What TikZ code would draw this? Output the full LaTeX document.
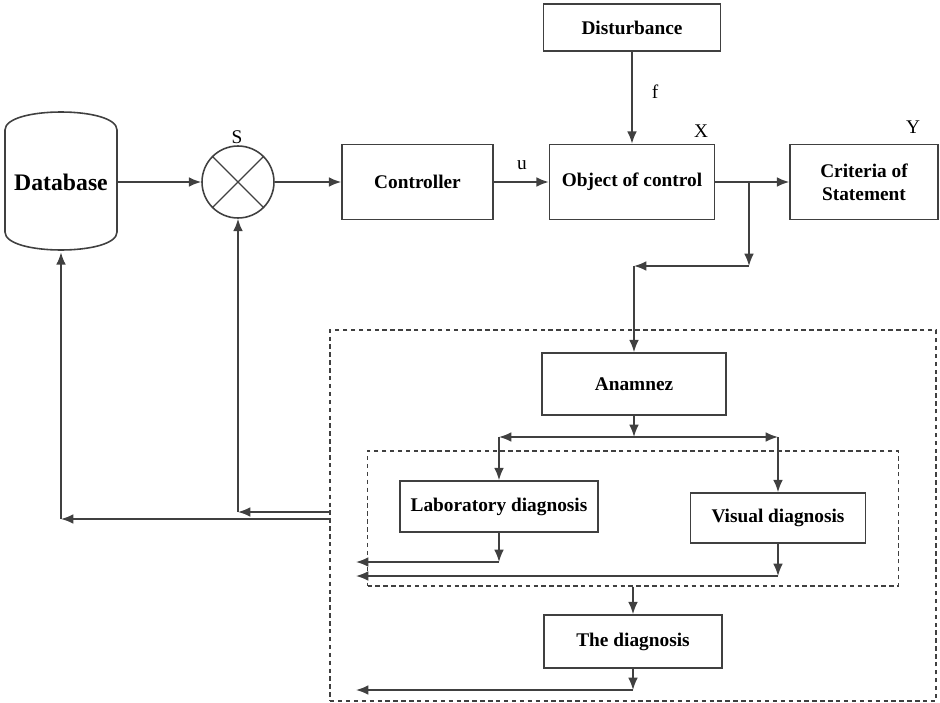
\documentclass[tikz,border=0pt]{standalone}
\usepackage{fontspec}
\setmainfont{Liberation Serif}
\usetikzlibrary{arrows.meta}
\definecolor{linegray}{rgb}{0.25,0.25,0.25}

\begin{document}
\begin{tikzpicture}[x=0.02cm,y=-0.02cm,>={Latex[length=7pt,width=5.5pt]},
  every node/.style={font=\fontsize{11}{13}\selectfont},
  blk/.style={draw=linegray,line width=0.9pt,inner sep=0pt,font=\fontsize{11}{13}\selectfont\bfseries},
  frame/.style={draw=linegray,line width=0.7pt,dash pattern=on 2.5pt off 2pt,inner sep=0pt},
  link/.style={->,draw=linegray,line width=0.9pt}]
 \useasboundingbox (0,0) rectangle (940,703);
 % control loop
 \node[inner sep=0pt,minimum width=2.24cm,minimum height=2.8cm,font=\fontsize{13.5}{15}\selectfont\bfseries] (db) at (61,182) {Database};
 \draw[linegray,line width=0.9pt] (5,130) .. controls (5,106) and (117,106) .. (117,130) -- (117,232)
   .. controls (117,256) and (5,256) .. (5,232) -- cycle;
 \node[blk,circle,minimum size=1.44cm] (s) at (238,182) {};
 \draw[linegray,line width=0.7pt] (s.north west)--(s.south east) (s.north east)--(s.south west);
 \node (slbl) at (237,137) {S};
 \node[blk,minimum width=3.02cm,minimum height=1.5cm] (ctrl) at (417.5,182) {Controller};
 \node[blk,minimum width=3.3cm,minimum height=1.5cm] (obj) at (632,182) {Object of control};
 \node[blk,minimum width=3.54cm,minimum height=0.94cm] (dist) at (632,27.5) {Disturbance};
 \node[blk,minimum width=2.96cm,minimum height=1.5cm,align=center] (crit) at (864,182) {Criteria of\\Statement};
 \node (ulbl) at (522,165) {u};
 \node (flbl) at (655,92) {f};
 \node (xlbl) at (701,131) {X};
 \node (ylbl) at (913,127) {Y};
 \draw[link] (db.east) -- (s.west);
 \draw[link] (s.east) -- (ctrl.west);
 \draw[link] (ctrl.east) -- (obj.west);
 \draw[link] (dist.south) -- (obj.north);
 \draw[link] (obj.east) -- (crit.west);
 % branch to diagnostics
 \coordinate (br) at (749,182);
 \coordinate (bd) at (749,266);
 \coordinate (bl) at (634,266);
 \draw[link] (br) -- (bd);
 \draw[link] (bd) -- (bl);
 % diagnostics block
 \node[frame,minimum width=12.12cm,minimum height=7.42cm] (outer) at (633,515.5) {};
 \node[frame,minimum width=10.62cm,minimum height=2.7cm] (inner) at (633,518.5) {};
 \node[blk,minimum width=3.68cm,minimum height=1.24cm] (anam) at (634,384) {Anamnez};
 \node[blk,minimum width=3.96cm,minimum height=1.02cm] (lab) at (499,506.5) {Laboratory diagnosis};
 \node[blk,minimum width=3.5cm,minimum height=1.0cm] (vis) at (778,518) {Visual diagnosis};
 \node[blk,minimum width=3.56cm,minimum height=1.06cm] (diag) at (633,641.5) {The diagnosis};
 \draw[link] (bl) -- (anam.north);
 \coordinate (af) at (634,437);
 \coordinate (al) at (499,437);
 \coordinate (ar) at (778,437);
 \draw[link] (anam.south) -- (af);
 \draw[link] (af) -- (al);
 \draw[link] (af) -- (ar);
 \draw[link] (al) -- (lab.north);
 \draw[link] (ar) -- (vis.north);
 \coordinate (ld) at (499,562);
 \coordinate (lo) at (356,562);
 \coordinate (vd) at (778,576);
 \coordinate (vo) at (356,576);
 \draw[link] (lab.south) -- (ld);
 \draw[link] (ld) -- (lo);
 \draw[link] (vis.south) -- (vd);
 \draw[link] (vd) -- (vo);
 \draw[link] (inner.south) -- (diag.north);
 \coordinate (dd) at (633,690);
 \coordinate (do) at (356,690);
 \draw[link] (diag.south) -- (dd);
 \draw[link] (dd) -- (do);
 % feedback
 \coordinate (o1) at (330,512);
 \coordinate (s1) at (238,512);
 \coordinate (o2) at (330,519);
 \coordinate (d1) at (61,519);
 \draw[link] (o1) -- (s1);
 \draw[link] (s1) -- (s.south);
 \draw[link] (o2) -- (d1);
 \draw[link] (d1) -- (db.south);
\end{tikzpicture}
\end{document}
